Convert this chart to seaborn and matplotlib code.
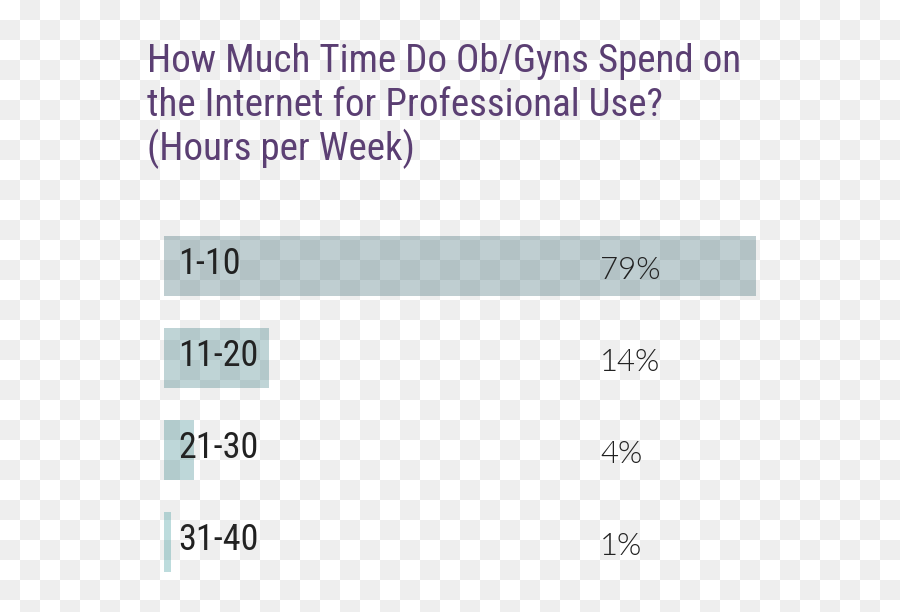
import numpy as np
import pandas as pd
import matplotlib
matplotlib.use("Agg")
import matplotlib.pyplot as plt
import matplotlib.transforms as mtransforms
import seaborn as sns

# ---- data ----
categories = ["1-10", "11-20", "21-30", "31-40"]
values = [79, 14, 4, 1]
value_labels = ["79%", "14%", "4%", "1%"]
title_lines = ["How Much Time Do Ob/Gyns Spend on",
               "the Internet for Professional Use?",
               "(Hours per Week)"]
bar_colors = ["#19606d", "#167a81", "#12848b", "#0c9a9e"]

sns.set_theme(style="white")
cond_font = ["Roboto Condensed", "Liberation Sans Narrow", "DejaVu Sans Condensed", "Roboto"]
light_font = ["Lato", "Open Sans", "DejaVu Sans"]

W, H, DPI = 900, 612, 100
fig = plt.figure(figsize=(W / DPI, H / DPI), dpi=DPI, facecolor="white")

# transparent-style checkerboard background
yy, xx = np.mgrid[0:H, 0:W]
checker = np.where(((yy // 20) + (xx // 20)) % 2 == 1, 238, 255).astype(np.uint8)
rgb = np.dstack([checker, checker, checker])
fig.figimage(rgb, xo=0, yo=0, origin="upper", zorder=0)

left_px, right_px = 164, 164 + 90 * (592 / 79)
top_px, bot_px = 220, 588
ax = fig.add_axes([left_px / W, 1 - bot_px / H, (right_px - left_px) / W, (bot_px - top_px) / H])
ax.set_zorder(2)
ax.patch.set_alpha(0)

df = pd.DataFrame({"cat": categories, "val": values})
sns.barplot(data=df, x="val", y="cat", hue="cat", palette=bar_colors, orient="h",
            width=0.652, alpha=0.29, linewidth=0, legend=False, ax=ax, zorder=2)

ax.set_xlim(0, 90)
ax.set_ylim(3.5, -0.5)
ax.set_axis_off()

for i, (cat, lab) in enumerate(zip(categories, value_labels)):
    t1 = mtransforms.offset_copy(ax.transData, fig=fig, x=14, y=-8, units="dots")
    ax.text(0, i, cat, transform=t1, ha="left", va="baseline", fontsize=26,
            family=cond_font, color="#222222", zorder=3)
    trans = mtransforms.blended_transform_factory(ax.transAxes, ax.transData)
    t2 = mtransforms.offset_copy(trans, fig=fig, x=0, y=-13, units="dots")
    ax.text((600 - left_px) / (right_px - left_px), i, lab, transform=t2, ha="left",
            va="baseline", fontsize=22.5, family=light_font, fontweight=300,
            color="#222222", zorder=3)

baselines = [72, 116, 160]
for line, b in zip(title_lines, baselines):
    t = fig.text(147 / W, 1 - b / H, line, ha="left", va="baseline", fontsize=28.1,
                 family=cond_font, color="#5b3f73")
    t.set_zorder(3)

fig.savefig("out.png", dpi=DPI, facecolor="white")
